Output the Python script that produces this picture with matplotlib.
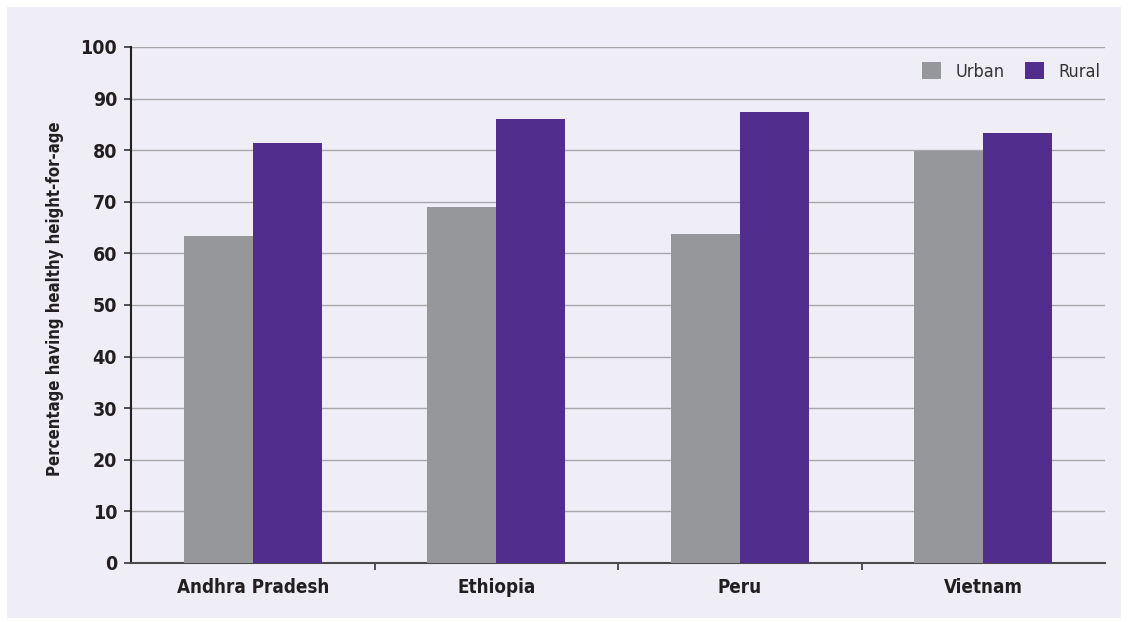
import matplotlib
matplotlib.use('Agg')
import matplotlib.pyplot as plt
import numpy as np
from matplotlib.patches import Rectangle

regions = ['Andhra Pradesh', 'Ethiopia', 'Peru', 'Vietnam']
urban = [63.3, 69.0, 63.8, 79.8]
rural = [81.3, 86.0, 87.5, 83.4]

GREY = '#96979a'
PURPLE = '#512d8e'
BG = '#efeef7'

# no Arial Narrow here, the condensed DejaVu is the closest
plt.rcParams['font.family'] = ['DejaVu Sans']
plt.rcParams['font.stretch'] = 'condensed'

fig = plt.figure(figsize=(11.28, 6.22), dpi=100)
fig.patch.set_facecolor('white')
fig.patches.append(Rectangle((7 / 1128, 4 / 622), 1114 / 1128, 611 / 622,
                             transform=fig.transFigure, facecolor=BG,
                             edgecolor='none', zorder=-10))

ax = fig.add_axes([131 / 1128, 59 / 622, 974 / 1128, 516 / 622])
ax.set_facecolor(BG)

x = np.arange(len(regions))
w = 0.283
ax.bar(x - w / 2, urban, w, color=GREY, zorder=3, label='Urban')
ax.bar(x + w / 2, rural, w, color=PURPLE, zorder=3, label='Rural')

ax.set_xlim(-0.5, len(regions) - 0.5)
ax.set_ylim(0, 100)
ax.set_yticks(range(0, 101, 10))
ax.tick_params(axis='y', labelsize=14, length=5, width=1.2, color='#333333', pad=5)
for lbl in ax.get_yticklabels():
    lbl.set_fontweight('bold')
    lbl.set_color('#231f20')

ax.set_xticks(x)
ax.set_xticklabels(regions, fontsize=13.5, fontweight='bold', color='#231f20')
ax.tick_params(axis='x', length=0, pad=11)
ax.set_xticks(np.arange(0.5, len(regions) - 0.5, 1), minor=True)
ax.tick_params(axis='x', which='minor', length=5, width=1.2, color='#333333')

ax.grid(axis='y', color='#a7a7aa', linewidth=1.0, zorder=0)
ax.set_axisbelow(True)
for s in ['top', 'right']:
    ax.spines[s].set_visible(False)
ax.spines['left'].set_color('#231f20')
ax.spines['left'].set_linewidth(1.5)
ax.spines['bottom'].set_color('#4a4a4a')
ax.spines['bottom'].set_linewidth(1.5)

ax.set_ylabel('Percentage having healthy height-for-age', fontsize=12,
              fontweight='bold', color='#231f20')
ax.yaxis.set_label_coords(-0.069, 0.512)

leg = ax.legend(loc='upper right', bbox_to_anchor=(1100 / 1128, 1 - 62 / 622),
                bbox_transform=fig.transFigure, borderaxespad=0, borderpad=0,
                ncol=2, frameon=False, fontsize=13, handlelength=1.05,
                handleheight=1.05, handletextpad=0.8, columnspacing=1.1)
for t in leg.get_texts():
    t.set_color('#333333')

fig.savefig('out.png', dpi=100, facecolor='white')
